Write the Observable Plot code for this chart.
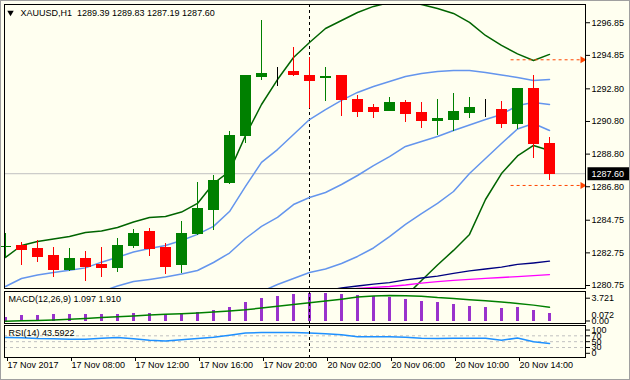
<!DOCTYPE html>
<html><head><meta charset="utf-8">
<script src="https://cdn.jsdelivr.net/npm/d3@7"></script>
<script src="https://cdn.jsdelivr.net/npm/@observablehq/plot@0.6"></script>
<style>
html,body{margin:0;padding:0;background:#FFFFF0;}
#chart{position:relative;width:630px;height:380px;background:#FFFFF0;overflow:hidden;}
#chart svg{position:absolute;left:0;overflow:visible;}
#border{position:absolute;left:0;top:0;width:630px;height:380px;box-sizing:border-box;border:1px solid #A0A0A0;pointer-events:none;}
</style></head><body><div id="chart"><div id="border"></div></div>
<script>
// ---- data (XAUUSD H1, 17 Nov 04:00 .. 20 Nov 16:00) ----
const opens  = [1283.08,1283.20,1282.96,1282.53,1281.67,1282.40,1281.98,1281.85,1283.14,1284.00,1283.02,1281.98,1283.88,1285.35,1287.00,1289.88,1293.51,1293.80,1293.86,1293.56,1293.48,1293.56,1292.09,1291.60,1291.47,1291.96,1291.29,1290.80,1290.92,1291.35,1291.53,1291.53,1290.62,1292.82,1289.39];
const highs  = [1283.95,1283.38,1283.49,1283.08,1283.02,1282.83,1283.08,1283.63,1284.18,1284.24,1283.32,1284.67,1287.06,1287.49,1290.19,1293.62,1296.99,1294.11,1295.33,1294.72,1294.11,1293.58,1292.39,1291.84,1292.27,1292.09,1291.96,1292.15,1292.52,1292.27,1292.15,1292.02,1292.85,1293.62,1289.83];
const lows   = [1282.45,1281.98,1282.18,1281.24,1281.61,1281.00,1281.24,1281.55,1283.02,1282.53,1281.42,1281.49,1283.81,1284.12,1286.94,1289.45,1293.31,1292.94,1293.56,1291.60,1292.02,1291.11,1291.04,1290.98,1291.41,1290.74,1290.37,1289.94,1290.19,1290.98,1291.04,1290.37,1290.31,1288.53,1287.19];
const closes = [1283.11,1282.91,1282.48,1281.67,1282.40,1281.91,1281.85,1283.20,1283.88,1282.96,1281.91,1283.88,1285.41,1287.18,1289.94,1293.56,1293.68,1293.80,1293.62,1293.31,1293.50,1292.09,1291.41,1291.41,1291.96,1291.23,1290.80,1290.98,1291.41,1291.60,1291.53,1290.62,1292.82,1289.39,1287.60];

const bandGreenUpper = [1282.47,1283.20,1283.45,1283.60,1283.75,1284.00,1284.09,1284.30,1284.64,1284.92,1284.98,1285.25,1285.78,1287.00,1287.74,1289.94,1291.84,1293.37,1294.72,1295.64,1296.50,1296.99,1297.48,1297.85,1298.09,1298.15,1297.97,1297.72,1297.42,1296.87,1296.07,1295.46,1294.94,1294.54,1294.91];
const bandGreenLower = [null,null,null,null,null,null,null,null,null,null,null,null,null,null,null,null,null,null,null,null,null,null,null,null,1278.91,1280.08,1281.06,1282.01,1282.90,1283.88,1286.02,1287.61,1288.69,1289.33,1289.02];
const bandBlueUpper  = [1280.69,1281.18,1281.39,1281.55,1281.69,1281.83,1282.18,1282.48,1282.80,1283.02,1283.20,1283.51,1283.88,1284.37,1285.28,1286.82,1288.29,1289.08,1290.00,1290.92,1291.53,1292.09,1292.58,1292.94,1293.25,1293.56,1293.74,1293.86,1293.92,1293.92,1293.80,1293.65,1293.50,1293.31,1293.37];
const bandBlueMiddle = [null,null,null,null,null,null,1280.38,1280.72,1280.99,1281.12,1281.27,1281.45,1281.67,1282.16,1282.74,1283.63,1284.37,1284.92,1285.71,1286.14,1286.45,1286.94,1287.49,1288.10,1288.65,1289.27,1289.57,1289.88,1290.25,1290.58,1290.92,1291.23,1291.78,1291.96,1291.84];
const bandBlueLower  = [null,null,null,null,null,null,null,null,null,null,null,null,null,null,null,1279.95,1280.38,1280.81,1281.18,1281.55,1281.76,1282.10,1282.53,1283.05,1283.75,1284.49,1285.16,1285.78,1286.51,1287.61,1288.53,1289.45,1290.34,1290.68,1290.25];
const maNavy    = [null,null,null,null,null,null,null,null,null,null,null,null,null,null,null,null,null,null,null,null,1280.44,1280.60,1280.72,1280.84,1280.93,1281.09,1281.21,1281.33,1281.49,1281.64,1281.76,1281.88,1282.04,1282.13,1282.24];
const maMagenta = [null,null,null,null,null,null,null,null,null,null,null,null,null,null,null,null,null,null,null,null,null,1280.50,1280.57,1280.63,1280.69,1280.78,1280.90,1280.99,1281.06,1281.12,1281.19,1281.24,1281.30,1281.36,1281.42];

const macdMain   = [0.54,0.84,0.84,0.93,0.93,1.01,1.01,1.01,1.10,1.10,0.93,1.10,1.27,1.49,1.91,2.52,3.07,3.33,3.59,3.72,3.72,3.55,3.46,3.29,3.13,2.91,2.69,2.48,2.26,2.04,1.91,1.74,1.91,1.49,1.097];
const macdSignal = [0.10,0.15,0.19,0.27,0.36,0.45,0.57,0.69,0.79,0.90,0.99,1.07,1.17,1.30,1.42,1.58,1.80,2.03,2.27,2.48,2.70,2.95,3.22,3.37,3.42,3.39,3.33,3.15,3.03,2.87,2.73,2.58,2.40,2.18,1.91];
const rsi14      = [64,63,60.5,60,58,58,61.5,64,60,55,52,56.5,60.5,65,72,80,81,81,81,80,77.5,73.5,66.7,66.7,66.7,65,61.5,60.5,61.5,61.5,61.5,54.7,62.5,49.5,43.59];

const priceTicks = [1296.85,1294.85,1292.80,1290.80,1288.80,1286.80,1284.75,1282.75,1280.75];
const timeTickBars = [0,4,8,12,16,20,24,28,32];
const timeTickLabels = ["17 Nov 2017","17 Nov 08:00","17 Nov 12:00","17 Nov 16:00","17 Nov 20:00","20 Nov 02:00","20 Nov 06:00","20 Nov 10:00","20 Nov 14:00"];
const orderLevels = [1294.58, 1286.88];
const orderLevelFromBar = 31.6;
const daySeparatorBar = 19;
const lastPrice = 1287.60;
const rsiLevels = [70, 50, 30];
const rsiLabels = [100, 70, 50, 30, 0];
const macdTopLabel = 3.721;
const macdLowLabel = 0.072;
const titleText = "XAUUSD,H1\u00a0\u00a01289.39 1289.83 1287.19 1287.60";
const macdText = "MACD(12,26,9) 1.097 1.910";
const rsiText = "RSI(14) 43.5922";

// ---- build ----
const candles = opens.map((o, i) => ({i, o, h: highs[i], l: lows[i], c: closes[i]}));
const candleColor = d => d.c > d.o ? "#008000" : d.c < d.o ? "#FF0000" : "#000000";
const series = arr => arr.map((v, i) => ({i, v})).filter(d => d.v != null);
const X_DOMAIN = [-0.0625, 36.25];
const style = {fontFamily: '"Liberation Sans", Arial, sans-serif', fontSize: "9px", background: "transparent", color: "#000", overflow: "visible"};
const common = {width: 630, marginLeft: 4, marginRight: 45, style, x: {domain: X_DOMAIN, axis: null}};
const sep = Plot.ruleX([daySeparatorBar], {x: d => d, stroke: "#000", strokeDasharray: "3,3"});
const chart = document.getElementById("chart");
function place(svg, top) { svg.style.top = top + "px"; chart.insertBefore(svg, document.getElementById("border")); return svg; }
// price-tag box symbol for the right axis
const tagBox = {draw(ctx) { ctx.rect(2, -6.5, 42, 13); }};

const main = Plot.plot({
  ...common, height: 292, marginTop: 4, marginBottom: 4,
  y: {domain: [1280.5662, 1297.9678], axis: null},
  marks: [
    Plot.ruleY([lastPrice], {y: d => d, stroke: "#C0C0C0"}),
    sep,
    Plot.line(series(bandGreenUpper), {x: "i", y: "v", stroke: "#006400", clip: true}),
    Plot.line(series(bandGreenLower), {x: "i", y: "v", stroke: "#006400", clip: true}),
    Plot.line(series(bandBlueUpper), {x: "i", y: "v", stroke: "#6495ED", clip: true}),
    Plot.line(series(bandBlueMiddle), {x: "i", y: "v", stroke: "#6495ED", clip: true}),
    Plot.line(series(bandBlueLower), {x: "i", y: "v", stroke: "#6495ED", clip: true}),
    Plot.line(series(maNavy), {x: "i", y: "v", stroke: "#000080", strokeWidth: 1.3, clip: true}),
    Plot.line(series(maMagenta), {x: "i", y: "v", stroke: "#FF00FF", strokeWidth: 1.3, clip: true}),
    Plot.ruleY(orderLevels, {y: d => d, x1: orderLevelFromBar, x2: X_DOMAIN[1], stroke: "#FF4500", strokeDasharray: "3,3"}),
    Plot.dot(orderLevels, {x: X_DOMAIN[1], y: d => d, symbol: "triangle", rotate: 90, r: 2.6, fill: "#FF4500", stroke: "none", dx: -3}),
    Plot.ruleX(candles, {x: "i", y1: "l", y2: "h", stroke: candleColor, shapeRendering: "crispEdges"}),
    Plot.rect(candles, {x1: d => d.i - 0.3125, x2: d => d.i + 0.3125, y1: "o", y2: "c", fill: candleColor, stroke: candleColor, shapeRendering: "crispEdges"}),
    Plot.dot([0], {frameAnchor: "top-left", dx: 6, dy: 8, symbol: "triangle", rotate: 180, r: 2.4, fill: "#000", stroke: "none"}),
    Plot.text([titleText], {frameAnchor: "top-left", text: d => d, dx: 16, dy: 8.5, textAnchor: "start", lineAnchor: "middle", fill: "#000"}),
    Plot.frame({stroke: "#000"}),
    Plot.axisY(priceTicks, {anchor: "right", label: null, tickSize: 4, tickPadding: 2, tickFormat: d => d.toFixed(2), fill: "#000"}),
    Plot.dot([lastPrice], {x: X_DOMAIN[1], y: d => d, symbol: tagBox, r: 4, fill: "#000", stroke: "none"}),
    Plot.text([lastPrice], {x: X_DOMAIN[1], y: d => d, text: d => d.toFixed(2), dx: 6, textAnchor: "start", lineAnchor: "middle", fill: "#fff"})
  ]
});
place(main, 0);

const macd = Plot.plot({
  ...common, height: 36, marginTop: 2, marginBottom: 2,
  y: {domain: [-0.194, 3.94], axis: null},
  marks: [
    Plot.ruleX(series(macdMain), {x: "i", y1: 0, y2: "v", stroke: "#9932CC", strokeWidth: 2.5, shapeRendering: "crispEdges"}),
    Plot.line(series(macdSignal), {x: "i", y: "v", stroke: "#008000"}),
    sep,
    Plot.text([macdText], {frameAnchor: "top-left", text: d => d, dx: 4, dy: 8, textAnchor: "start", lineAnchor: "middle", fill: "#000"}),
    Plot.frame({stroke: "#000"}),
    Plot.axisY([macdTopLabel], {anchor: "right", label: null, tickSize: 4, tickPadding: 2, dy: 5, tickFormat: d => d.toFixed(3), fill: "#000"}),
    Plot.axisY([macdLowLabel], {anchor: "right", label: null, tickSize: 0, tickPadding: 6, dy: -6, tickFormat: d => d.toFixed(3), fill: "#000"}),
    Plot.axisY([0], {anchor: "right", label: null, tickSize: 4, tickPadding: 2, dy: -1, tickFormat: d => d.toFixed(2), fill: "#000"})
  ]
});
place(macd, 289);

const rsi = Plot.plot({
  ...common, height: 57, marginTop: 2, marginBottom: 23,
  y: {domain: [-4.1, 105.3], axis: null},
  marks: [
    Plot.ruleY(rsiLevels, {y: d => d, stroke: "#C0C0C0", strokeDasharray: "3,3"}),
    Plot.line(series(rsi14), {x: "i", y: "v", stroke: "#1E90FF"}),
    sep,
    Plot.text([rsiText], {frameAnchor: "top-left", text: d => d, dx: 4, dy: 8, textAnchor: "start", lineAnchor: "middle", fill: "#000"}),
    Plot.frame({stroke: "#000"}),
    Plot.axisY(rsiLabels.slice(0, 1), {anchor: "right", label: null, tickSize: 4, tickPadding: 2, dy: 3, fill: "#000"}),
    Plot.axisY(rsiLabels.slice(1, 4), {anchor: "right", label: null, tickSize: 4, tickPadding: 2, fill: "#000"}),
    Plot.axisY(rsiLabels.slice(4), {anchor: "right", label: null, tickSize: 4, tickPadding: 2, dy: -3, fill: "#000"}),
    Plot.axisX(timeTickBars, {anchor: "bottom", label: null, tickSize: 4, tickPadding: 0, textAnchor: "start", dx: 2,
      tickFormat: i => timeTickLabels[timeTickBars.indexOf(i)], fill: "#000"})
  ]
});
place(rsi, 323);
</script></body></html>
